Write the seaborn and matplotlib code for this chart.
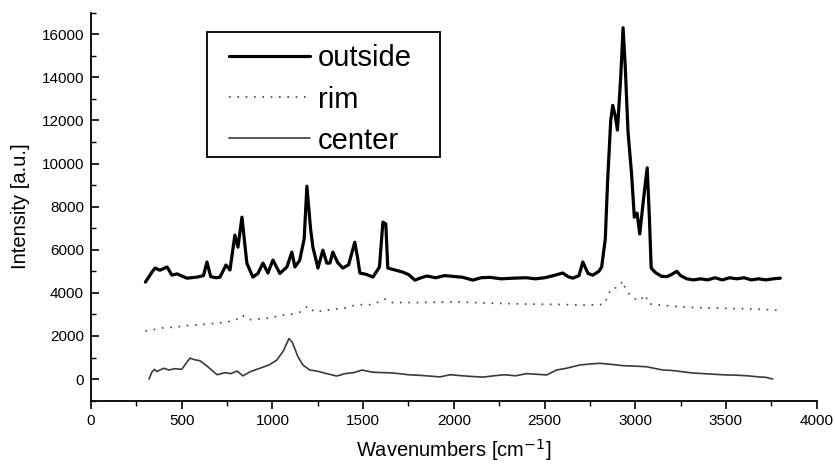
import matplotlib.pyplot as plt
from matplotlib.patches import Rectangle
from matplotlib.ticker import MultipleLocator
import seaborn as sns

# Raman spectra (wavenumber in cm^-1, intensity in a.u.)
outside_x = [300, 336, 353, 380, 419, 446, 474, 529, 584, 620, 639, 660, 690, 711, 744, 766,
             793, 810, 832, 859, 892, 920, 948, 975, 1003, 1041, 1080, 1107, 1124, 1150, 1175,
             1190, 1210, 1223, 1251, 1278, 1300, 1317, 1333, 1360, 1388, 1420, 1454, 1470, 1482,
             1520, 1554, 1590, 1609, 1625, 1636, 1680, 1719, 1750, 1785, 1820, 1851, 1900, 1950,
             2000, 2050, 2104, 2150, 2200, 2260, 2325, 2400, 2450, 2500, 2550, 2600, 2630, 2656,
             2690, 2711, 2740, 2766, 2800, 2815, 2835, 2848, 2865, 2876, 2890, 2902, 2920, 2933,
             2945, 2960, 2980, 2995, 3010, 3025, 3045, 3066, 3078, 3088, 3110, 3144, 3175, 3200,
             3229, 3250, 3284, 3320, 3360, 3400, 3440, 3480, 3520, 3560, 3600, 3640, 3680, 3720,
             3760, 3800]
outside_y = [4500, 4960, 5150, 5050, 5200, 4820, 4880, 4680, 4730, 4800, 5430, 4750, 4700, 4730,
             5290, 5060, 6680, 6120, 7510, 5380, 4730, 4900, 5380, 4920, 5520, 4900, 5200, 5890,
             5200, 5500, 6500, 8950, 7000, 6120, 5150, 5980, 5380, 5380, 5890, 5400, 5150, 5300,
             6350, 5600, 4920, 4850, 4730, 5200, 7280, 7200, 5150, 5050, 4960, 4850, 4590, 4700,
             4780, 4700, 4800, 4760, 4720, 4590, 4700, 4720, 4650, 4680, 4700, 4650, 4700, 4800,
             4920, 4750, 4680, 4800, 5430, 4900, 4820, 5000, 5200, 6500, 9230, 12000, 12700,
             12200, 11550, 14000, 16300, 14500, 11500, 9500, 7510, 7700, 6730, 8300, 9800, 7500,
             5150, 4950, 4770, 4750, 4850, 5000, 4800, 4650, 4600, 4650, 4600, 4700, 4600, 4700,
             4650, 4700, 4600, 4650, 4600, 4650, 4680]

rim_x = [300, 350, 400, 450, 500, 550, 600, 650, 700, 750, 800, 832, 870, 900, 950, 1000, 1041,
         1100, 1150, 1196, 1234, 1300, 1350, 1400, 1466, 1550, 1620, 1650, 1700, 1800, 1900,
         2000, 2104, 2200, 2300, 2400, 2500, 2600, 2711, 2800, 2830, 2848, 2870, 2898, 2933,
         2944, 2975, 3019, 3058, 3069, 3100, 3150, 3200, 3300, 3400, 3500, 3600, 3700, 3780]
rim_y = [2230, 2300, 2380, 2400, 2450, 2500, 2520, 2560, 2600, 2650, 2750, 2970, 2750, 2780,
         2800, 2850, 2950, 3000, 3100, 3390, 3100, 3200, 3250, 3300, 3450, 3450, 3710, 3550,
         3550, 3550, 3560, 3580, 3550, 3520, 3500, 3480, 3470, 3460, 3430, 3450, 3480, 3850,
         4220, 4230, 4550, 4220, 3850, 3620, 3900, 3520, 3450, 3430, 3380, 3330, 3300, 3280,
         3260, 3230, 3200]

center_x = [320, 335, 350, 363, 400, 430, 460, 500, 545, 570, 600, 640, 695, 740, 770, 805, 837,
            880, 931, 980, 1024, 1060, 1091, 1110, 1140, 1168, 1206, 1245, 1300, 1355, 1400,
            1450, 1493, 1550, 1600, 1647, 1700, 1750, 1800, 1850, 1923, 1980, 2050, 2100, 2160,
            2220, 2280, 2340, 2400, 2460, 2512, 2567, 2620, 2694, 2750, 2804, 2870, 2933, 3000,
            3063, 3080, 3152, 3200, 3250, 3317, 3380, 3440, 3504, 3560, 3620, 3680, 3720, 3758]
center_y = [0, 320, 450, 350, 500, 420, 480, 450, 970, 900, 850, 600, 200, 300, 250, 370, 150,
            350, 500, 650, 880, 1300, 1880, 1700, 1050, 650, 420, 370, 250, 140, 250, 300, 420,
            320, 300, 290, 250, 200, 180, 150, 100, 200, 150, 120, 90, 150, 200, 150, 250, 220,
            190, 420, 500, 650, 700, 730, 680, 620, 600, 570, 540, 420, 400, 350, 280, 250, 220,
            190, 180, 150, 100, 80, 0]

sns.set_style("ticks")
plt.rcParams['font.family'] = ['Liberation Sans', 'DejaVu Sans']
plt.rcParams.update({'text.color': 'black', 'axes.labelcolor': 'black',
                     'xtick.color': 'black', 'ytick.color': 'black'})

fig = plt.figure(figsize=(8.35, 4.68), dpi=100)
ax = fig.add_axes([0.109, 0.144, 0.869, 0.829])

sns.lineplot(x=outside_x, y=outside_y, ax=ax, color='black', lw=2.3, label='outside', sort=False)
sns.lineplot(x=rim_x, y=rim_y, ax=ax, color='#444444', lw=1.2, linestyle=(0, (1, 4)),
             label='rim', sort=False)
sns.lineplot(x=center_x, y=center_y, ax=ax, color='#3a3a3a', lw=1.2, label='center', sort=False)

ax.set_xlim(0, 4000)
ax.set_ylim(-1000, 17000)
ax.xaxis.set_major_locator(MultipleLocator(500))
ax.xaxis.set_minor_locator(MultipleLocator(250))
ax.yaxis.set_major_locator(MultipleLocator(2000))
ax.yaxis.set_minor_locator(MultipleLocator(1000))
ax.set_yticks(range(0, 16001, 2000))

sns.despine(ax=ax)
for side in ['left', 'bottom']:
    ax.spines[side].set_linewidth(1.3)
    ax.spines[side].set_color('black')

ax.tick_params(axis='x', which='major', direction='out', length=6, width=1.2, labelsize=11, pad=4)
ax.tick_params(axis='x', which='minor', direction='out', length=3.5, width=1.0)
ax.tick_params(axis='y', which='major', direction='in', length=6, width=1.2, labelsize=11, pad=5)
ax.tick_params(axis='y', which='minor', direction='in', length=3.5, width=1.0)

ax.set_xlabel('Wavenumbers [cm$^{-1}$]', fontsize=14.5, labelpad=6)
ax.set_ylabel('Intensity [a.u.]', fontsize=14.5, labelpad=8)

# legend box drawn separately so its padding can match the original
ax.add_patch(Rectangle((0.160, 0.627), 0.321, 0.323, transform=ax.transAxes,
                       facecolor='white', edgecolor='black', lw=1.3, zorder=4))
leg = ax.legend(loc='upper left', bbox_to_anchor=(0.190, 0.918), borderaxespad=0,
                fontsize=21, frameon=False, handlelength=2.77, handletextpad=0.27,
                labelspacing=0.45, borderpad=0, labelcolor='black')
leg.set_zorder(5)

fig.savefig('out.png', dpi=100)
